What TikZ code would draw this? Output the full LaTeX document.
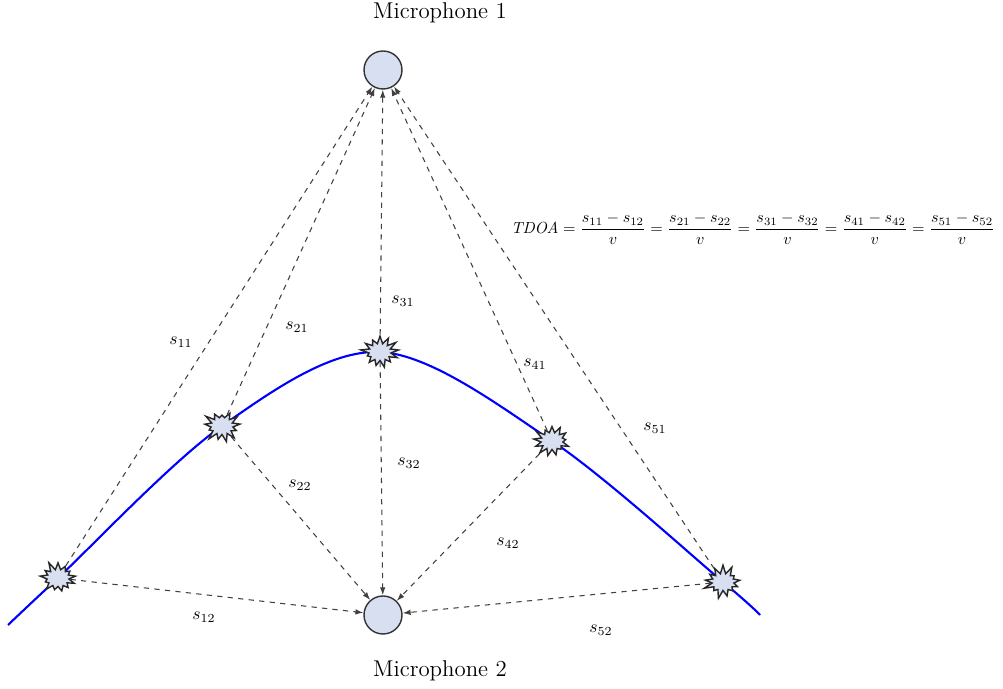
\documentclass[tikz,border=0pt]{standalone}
\usepackage{amsmath}
\usetikzlibrary{arrows.meta, shapes.symbols, positioning}
\definecolor{micfill}{RGB}{216,223,241}

\begin{document}
\begin{tikzpicture}[
  mic/.style={circle, draw=black!80, thick, fill=micfill, minimum size=0.76cm, inner sep=0pt},
  burst/.style={starburst, draw=black!85, thick, fill=micfill, minimum width=0.8cm, minimum height=0.7cm,
    starburst points=13, starburst point height=0.18cm, inner sep=0pt},
  ray/.style={dashed, draw=black!75, semithick, -{Latex[length=1.6mm, width=1.1mm]}},
  lbl/.style={font=\normalsize},
  title/.style={font=\fontsize{13}{15}\selectfont}
]
\useasboundingbox (0,0) rectangle (20.06,13.78);

% Mikrofone
\node[mic] (mic1) at (7.66,12.38) {};
\node[mic] (mic2) at (7.66,1.48) {};
\node[title] (t1) at (8.8,13.52) {Microphone 1};
\node[title] (t2) at (8.8,0.36) {Microphone 2};

% Quellenkurve
\draw[blue, very thick] plot[smooth, tension=0.55] coordinates
  {(0.16,1.28) (1.16,2.22) (4.44,5.26) (7.6,6.74) (11.04,4.96) (14.46,2.14) (15.2,1.48)};

% Quellen
\node[burst, random starburst=11] (q1) at (1.16,2.22) {};
\node[burst, random starburst=23] (q2) at (4.44,5.26) {};
\node[burst, random starburst=37] (q3) at (7.6,6.74) {};
\node[burst, random starburst=41] (q4) at (11.04,4.96) {};
\node[burst, random starburst=53] (q5) at (14.46,2.14) {};

% Wege zu Mikrofon 1
\foreach \i in {1,...,5}
  \draw[ray] (q\i) -- (mic1);

% Wege zu Mikrofon 2
\foreach \i in {1,...,5}
  \draw[ray] (q\i) -- (mic2);

% Beschriftungen
\node[lbl] (l11) at (3.62,6.94) {$s_{11}$};
\node[lbl] (l21) at (5.94,7.24) {$s_{21}$};
\node[lbl] (l31) at (8.06,7.76) {$s_{31}$};
\node[lbl] (l41) at (10.7,6.5) {$s_{41}$};
\node[lbl] (l51) at (13.1,5.22) {$s_{51}$};
\node[lbl] (l12) at (4.08,1.44) {$s_{12}$};
\node[lbl] (l22) at (6.0,4.08) {$s_{22}$};
\node[lbl] (l32) at (8.18,4.52) {$s_{32}$};
\node[lbl] (l42) at (10.16,2.92) {$s_{42}$};
\node[lbl] (l52) at (12.02,1.18) {$s_{52}$};

% Formel
\node[scale=0.915] (tdoa) at (15.06,9.2)
  {$\displaystyle \mathit{TDOA}=\frac{s_{11}-s_{12}}{v}=\frac{s_{21}-s_{22}}{v}=\frac{s_{31}-s_{32}}{v}=\frac{s_{41}-s_{42}}{v}=\frac{s_{51}-s_{52}}{v}$};

\end{tikzpicture}
\end{document}
